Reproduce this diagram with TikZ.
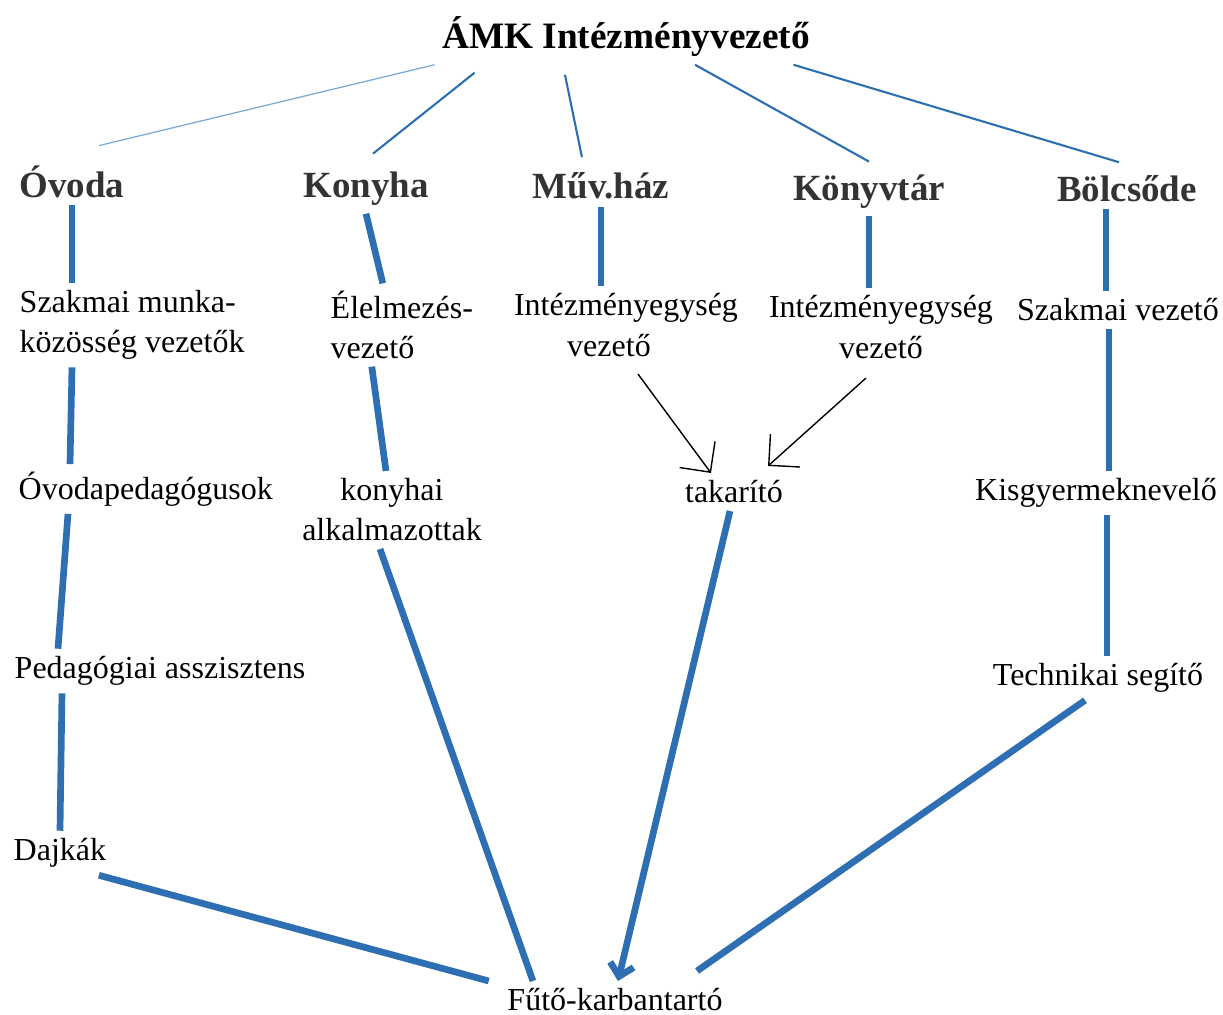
\documentclass[tikz,border=0pt]{standalone}
\usepackage{fontspec}
\setmainfont{Liberation Serif}
\usetikzlibrary{arrows.meta}

\definecolor{amkblue}{RGB}{46,110,178}
\definecolor{amklight}{RGB}{120,170,215}

\begin{document}
\begin{tikzpicture}[
  x=0.01cm, y=-0.01cm,
  chief/.style={font=\fontsize{10.6}{13}\selectfont\bfseries, inner sep=2pt},
  unit/.style={font=\fontsize{10.5}{13}\selectfont\bfseries, text=black!80, inner sep=2pt, anchor=base},
  staff/.style={font=\fontsize{9.1}{11.4}\selectfont, align=center, inner sep=2pt},
  left staff/.style={staff, align=left, anchor=west},
  tie/.style={draw=amkblue, line width=.6pt},
  faint/.style={draw=amklight, line width=.35pt},
  bar/.style={draw=amkblue, line width=1.9pt},
  feed/.style={-{Straight Barb[length=2.2mm]}, line width=.4pt}
]
  \useasboundingbox (0,0) rectangle (1223,1015);

  \node[chief] (amk) at (626,37) {ÁMK Intézményvezető};

  \node[unit] (ovoda) at (72,197) {Óvoda};
  \node[unit] (konyha) at (366,198) {Konyha};
  \node[unit] (muvhaz) at (601,199) {Műv.ház};
  \node[unit] (konyvtar) at (869,200) {Könyvtár};
  \node[unit] (bolcsode) at (1127,201) {Bölcsőde};

  \node[left staff] (szakmai) at (12,325) {Szakmai munka-\\közösség vezetők};
  \node[left staff] (elelmezes) at (323,325) {Élelmezés-\\vezető};
  \node[staff] (ieg1) at (626,325) {Intézményegység\\vezető\hspace*{3.4mm}};
  \node[staff] (ieg2) at (881,327) {Intézményegység\\vezető};
  \node[staff] (szakvez) at (1118,310) {Szakmai vezető};

  \node[left staff] (ovodaped) at (11,489) {Óvodapedagógusok};
  \node[staff] (konyhai) at (392,510) {konyhai\\alkalmazottak};
  \node[staff] (takarito) at (734,492) {takarító};
  \node[staff] (kisgyerm) at (1096,493) {Kisgyermeknevelő};

  \node[left staff] (pedasszt) at (7,671) {Pedagógiai asszisztens};
  \node[staff] (technikai) at (1098,678) {Technikai segítő};

  \node[left staff] (dajkak) at (6,853) {Dajkák};
  \node[staff] (futo) at (615,1000) {Fűtő-karbantartó};

  % top level
  \draw[faint] (amk.south west) -- ([xshift=2.7mm, yshift=1.2mm]ovoda.north);
  \draw[tie] ([xshift=4mm, yshift=-0.8mm]amk.south west) -- ([xshift=0.7mm, yshift=1.1mm]konyha.north);
  \draw[tie] ([xshift=-6.1mm, yshift=-1mm]amk.south) -- ([xshift=-1.9mm, yshift=0.8mm]muvhaz.north);
  \draw[tie] ([xshift=6.9mm]amk.south) -- ([yshift=0.5mm]konyvtar.north);
  \draw[tie] ([xshift=-2.4mm]amk.south east) -- ([xshift=-0.8mm, yshift=0.5mm]bolcsode.north);

  % ovoda
  \draw[bar] (ovoda.south) -- (ovoda.south |- szakmai.north);
  \draw[bar] (ovoda.south |- szakmai.south) -- ([xshift=-0.2mm]ovoda.south |- ovodaped.north);
  \draw[bar] ([xshift=-0.4mm]ovoda.south |- ovodaped.south) -- ([xshift=-1.4mm]ovoda.south |- pedasszt.north);
  \draw[bar] ([xshift=-1mm]ovoda.south |- pedasszt.south) -- ([xshift=-1.2mm]ovoda.south |- dajkak.north);
  \draw[bar] ([xshift=-1.5mm]dajkak.south east) -- ([xshift=-1.1mm]futo.north west);

  % konyha
  \draw[bar] (konyha.south) -- ([xshift=-1.9mm]elelmezes.north);
  \draw[bar] ([xshift=-3mm]elelmezes.south) -- ([xshift=-0.6mm]konyhai.north);
  \draw[bar] ([xshift=-1.2mm]konyhai.south) -- ([xshift=-8.2mm]futo.north);

  % muv.haz, konyvtar
  \draw[bar] (muvhaz.south) -- (muvhaz.south |- ieg1.north);
  \draw[bar] (konyvtar.south) -- (konyvtar.south |- ieg2.north);
  \draw[feed] ([xshift=1.2mm, yshift=-1mm]ieg1.south) -- ([xshift=-2.3mm]takarito.north);
  \draw[feed] ([xshift=-1.5mm, yshift=-1.2mm]ieg2.south) -- ([xshift=3.4mm, yshift=0.7mm]takarito.north);
  \draw[bar, -{Straight Barb[length=1.2mm]}] ([xshift=-0.4mm]takarito.south) -- ([xshift=0.3mm]futo.north);

  % bolcsode
  \draw[bar] ([xshift=-2.1mm]bolcsode.south) -- ([xshift=-2.1mm]bolcsode.south |- szakvez.north);
  \draw[bar] ([xshift=-0.9mm]szakvez.south) -- ([xshift=-0.9mm]szakvez.south |- kisgyerm.north);
  \draw[bar] ([xshift=1.1mm]kisgyerm.south) -- ([xshift=1.1mm]kisgyerm.south |- technikai.north);
  \draw[bar] ([xshift=-1.3mm]technikai.south) -- ([xshift=8.2mm, yshift=1mm]futo.north);
\end{tikzpicture}
\end{document}
